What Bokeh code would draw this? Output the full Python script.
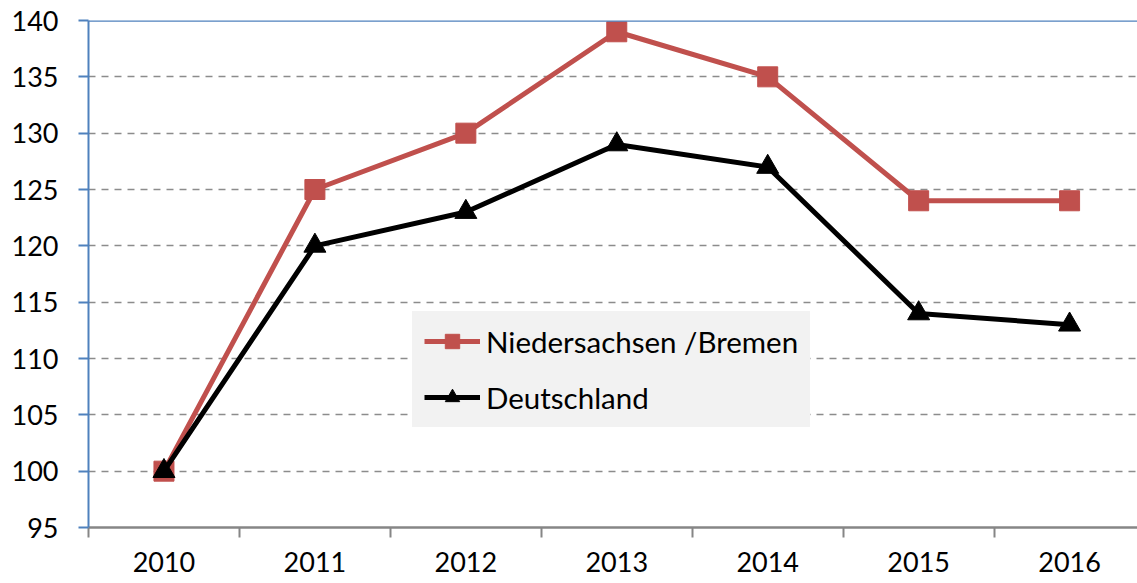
from bokeh.plotting import figure
from bokeh.models import FixedTicker, Legend, LegendItem, Span, ColumnDataSource
from bokeh.embed import file_html
from bokeh.resources import INLINE

years = ["2010", "2011", "2012", "2013", "2014", "2015", "2016"]
nieder_bremen = [100, 125, 130, 139, 135, 124, 124]
deutschland = [100, 120, 123, 129, 127, 114, 113]
y_ticks = [95, 100, 105, 110, 115, 120, 125, 130, 135, 140]

FONT = "Lato"
RED = "#C0504D"
BLUE = "#4F81BD"
GRAY = "#868686"
LEG_BG = "#F2F2F2"

xs = list(range(len(years)))
src = ColumnDataSource(dict(x=xs, nb=nieder_bremen, de=deutschland))

p = figure(width=1137, height=583, output_backend="svg", toolbar_location=None,
           x_range=(-0.5, 6.45), y_range=(95, 140),
           min_border_left=88, min_border_right=0, min_border_top=20, min_border_bottom=56)
p.outline_line_color = None
p.background_fill_color = "white"
p.border_fill_color = "white"

r1l = p.line("x", "nb", source=src, line_color=RED, line_width=5)
r1m = p.scatter("x", "nb", source=src, marker="square", size=20, fill_color=RED, line_color=RED)
r2l = p.line("x", "de", source=src, line_color="black", line_width=5)
r2m = p.scatter("x", "de", source=src, marker="triangle", size=22, fill_color="black", line_color="black")

# axes
p.xaxis.ticker = FixedTicker(ticks=xs, minor_ticks=[i - 0.5 for i in xs])
p.xaxis.major_label_overrides = {i: y for i, y in enumerate(years)}
p.xaxis.major_tick_line_color = None
p.xaxis.minor_tick_line_color = GRAY
p.xaxis.minor_tick_line_width = 2
p.xaxis.minor_tick_out = 10
p.xaxis.minor_tick_in = 0
p.xaxis.axis_line_color = GRAY
p.xaxis.axis_line_width = 2.5
p.xaxis.major_label_text_font = FONT
p.xaxis.major_label_text_font_size = "27px"
p.xaxis.major_label_text_color = "black"
p.xaxis.major_label_standoff = 14

p.yaxis.ticker = FixedTicker(ticks=y_ticks)
p.yaxis.minor_tick_line_color = None
p.yaxis.major_tick_line_color = BLUE
p.yaxis.major_tick_line_width = 2
p.yaxis.major_tick_out = 10
p.yaxis.major_tick_in = 0
p.yaxis.axis_line_color = BLUE
p.yaxis.axis_line_width = 2
p.yaxis.major_label_text_font = FONT
p.yaxis.major_label_text_font_size = "27px"
p.yaxis.major_label_text_color = "black"
p.yaxis.major_label_standoff = 20

p.xgrid.grid_line_color = None
p.ygrid.ticker = FixedTicker(ticks=y_ticks[1:-1])
p.ygrid.grid_line_color = "#8C8C8C"
p.ygrid.grid_line_width = 1.5
p.ygrid.grid_line_dash = "7 6"

p.add_layout(Span(location=140, dimension="width", line_color=BLUE, line_width=2.5))

legend = Legend(items=[LegendItem(label="Niedersachsen /Bremen", renderers=[r1l, r1m]),
                       LegendItem(label="Deutschland", renderers=[r2l, r2m])],
                location=(324, 100))
legend.background_fill_color = LEG_BG
legend.background_fill_alpha = 1
legend.border_line_color = LEG_BG
legend.border_line_width = 12
legend.label_text_font = FONT
legend.label_text_font_size = "29.5px"
legend.label_text_color = "black"
legend.glyph_width = 56
legend.glyph_height = 36
legend.label_height = 36
legend.spacing = 20
legend.padding = 0
legend.margin = 0
legend.label_standoff = 6
p.add_layout(legend, "center")

open("out.html", "w").write(file_html(p, INLINE))
